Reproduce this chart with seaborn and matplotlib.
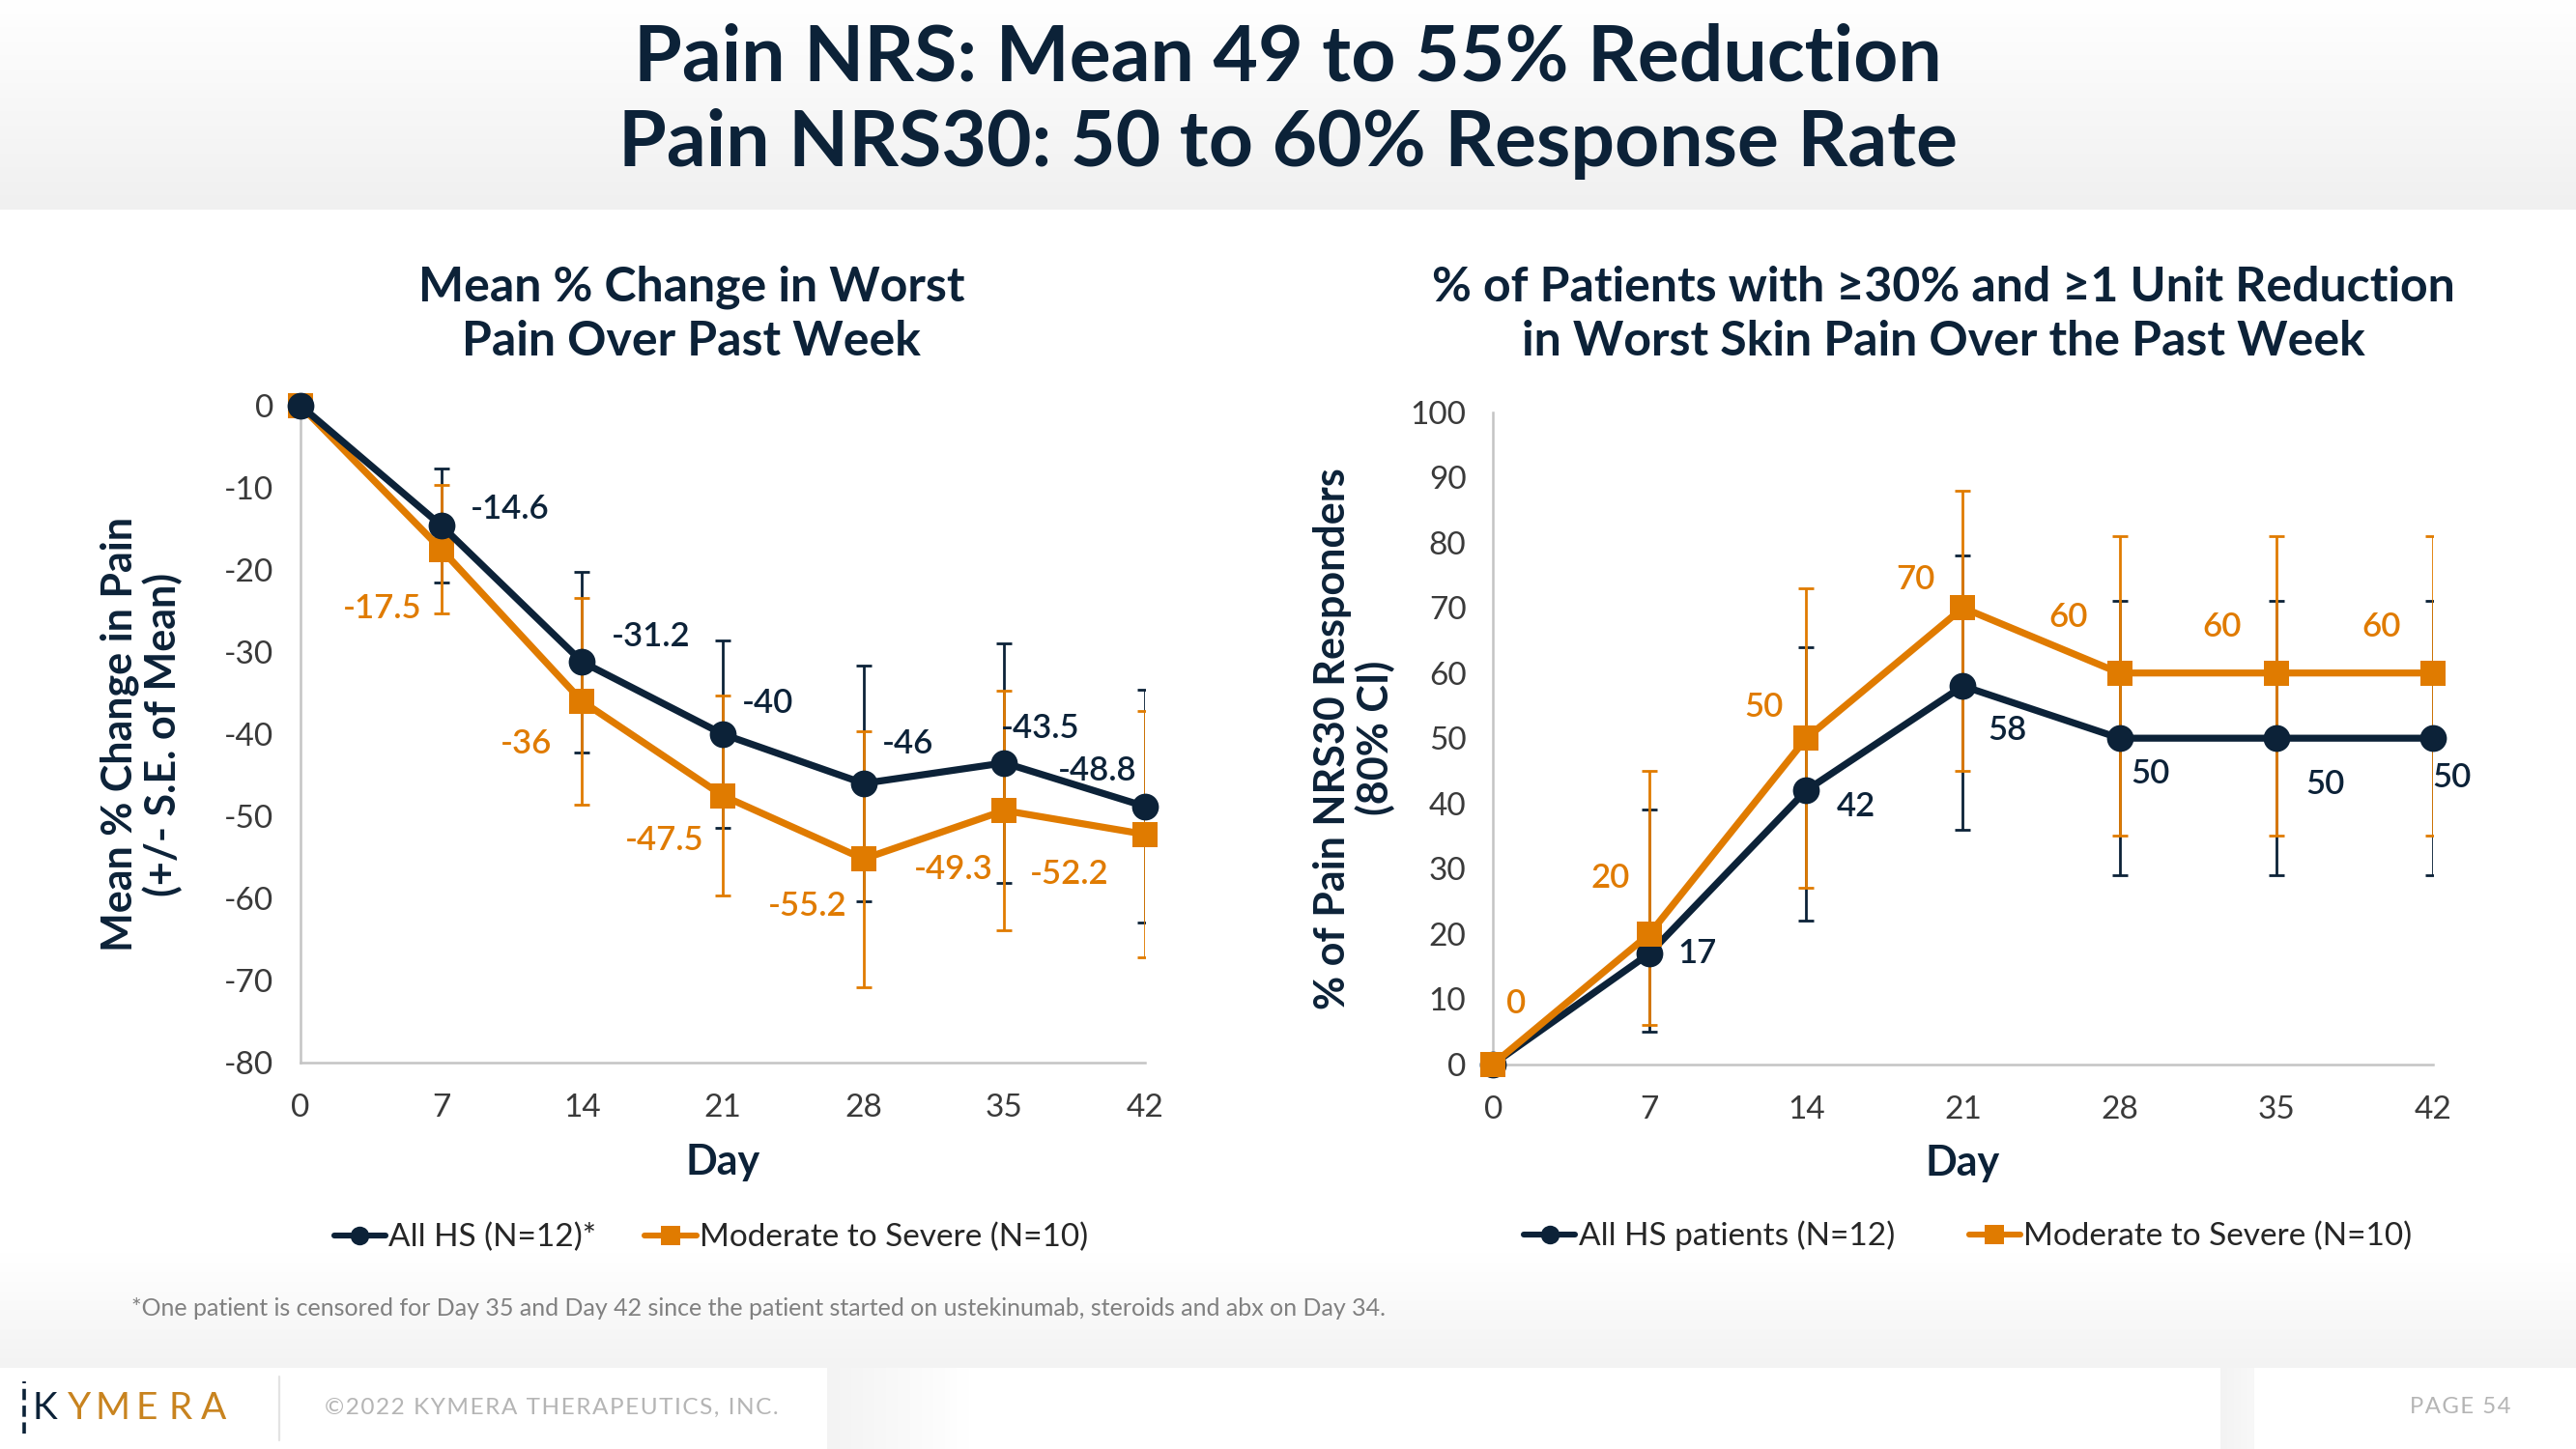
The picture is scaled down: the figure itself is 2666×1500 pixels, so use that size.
import numpy as np
import pandas as pd
import matplotlib.pyplot as plt
import seaborn as sns
from matplotlib.colors import LinearSegmentedColormap
from matplotlib.lines import Line2D

# Config
sns.set_theme(style="white")
plt.rcParams['font.family'] = ['Lato', 'DejaVu Sans']
plt.rcParams['axes.unicode_minus'] = False

NAVY = "#0c2238"
ORANGE = "#e07b00"
SPINE = "#c4c4c4"

# --------------------------------------------
# Data
# --------------------------------------------
days = [0, 7, 14, 21, 28, 35, 42]

# left: mean % change in worst pain (+/- S.E.)
pain_all = [0, -14.6, -31.2, -40, -46, -43.5, -48.8]
pain_all_se = [np.nan, 6.9, 11.0, 11.4, 14.3, 14.6, 14.2]
pain_mod = [0, -17.5, -36, -47.5, -55.2, -49.3, -52.2]
pain_mod_se = [np.nan, 7.8, 12.6, 12.2, 15.6, 14.6, 15.0]

# right: % NRS30 responders (80% CI)
resp_all = [0, 17, 42, 58, 50, 50, 50]
resp_all_lo = [np.nan, 5, 22, 36, 29, 29, 29]
resp_all_hi = [np.nan, 39, 64, 78, 71, 71, 71]
resp_mod = [0, 20, 50, 70, 60, 60, 60]
resp_mod_lo = [np.nan, 6, 27, 45, 35, 35, 35]
resp_mod_hi = [np.nan, 45, 73, 88, 81, 81, 81]

# label offsets (pixels) for the data labels
off_pain_all = [None, (71, 17), (71, 26), (46, 32), (46, 41), (37, 36), (-49, 37)]
off_pain_mod = [None, (-61, -61), (-58, -44), (-60, -46), (-58, -49), (-53, -61), (-78, -41)]
off_resp_all = [None, (49, 0), (51, -17), (46, -46), (32, -37), (51, -48), (20, -41)]
off_resp_mod = [(24, 63), (-41, 58), (-44, 32), (-49, 29), (-53, 58), (-56, 48), (-53, 48)]

df_pain = pd.DataFrame({'day': days, 'all': pain_all, 'mod': pain_mod})
df_resp = pd.DataFrame({'day': days, 'all': resp_all, 'mod': resp_mod})

fig = plt.figure(figsize=(13.33, 7.5), dpi=200)

# --------------------------------------------
# Background bands
# --------------------------------------------
bg = fig.add_axes([0, 0, 1, 1], zorder=-5)
bg.axis('off')


def band(x0, x1, y0, y1, c0, c1, vertical=True):
    cmap = LinearSegmentedColormap.from_list('b', [c0, c1])
    g = np.linspace(0, 1, 256)
    g = g.reshape(-1, 1) if vertical else g.reshape(1, -1)
    bg.imshow(g, extent=[x0, x1, y0, y1], aspect='auto', cmap=cmap,
              origin='upper', interpolation='bilinear')


band(0, 1, 0.855, 1.0, "#ffffff", "#f0f0f0")
band(0, 1, 0.056, 0.135, "#ffffff", "#f3f3f3")
band(0.321, 0.376, 0.0, 0.056, "#f3f3f3", "#ffffff", vertical=False)
band(0.862, 0.875, 0.0, 0.056, "#f3f3f3", "#f8f8f8", vertical=False)
bg.set_xlim(0, 1)
bg.set_ylim(0, 1)


def style_axes(ax):
    sns.despine(ax=ax)
    for s in ['left', 'bottom']:
        ax.spines[s].set_color(SPINE)
        ax.spines[s].set_linewidth(0.9)
    ax.tick_params(axis='both', length=4, width=0.8, color=SPINE,
                   labelsize=12, labelcolor="#3a3a3a", direction='out')
    ax.tick_params(axis='x', pad=7.5)
    ax.tick_params(axis='y', pad=6)
    ax.set_xlim(0, 42)
    ax.set_xticks(days)
    ax.set_facecolor('none')


def add_labels(ax, values, offsets, color):
    for d, v, o in zip(days, values, offsets):
        if o is None:
            continue
        ax.annotate(f"{v:g}", (d, v), xytext=o, textcoords='offset pixels',
                    ha='center', va='center', fontsize=12.5,
                    fontweight='semibold', color=color, annotation_clip=False)


# --------------------------------------------
# 1. Mean % change in worst pain
# --------------------------------------------
axL = fig.add_axes([0.1167, 0.2667, 0.3278, 0.4533])
axL.errorbar(days, pain_all, yerr=pain_all_se, fmt='none', ecolor=NAVY,
             elinewidth=1.0, capsize=3, capthick=1.0, zorder=2)
axL.errorbar(days, pain_mod, yerr=pain_mod_se, fmt='none', ecolor=ORANGE,
             elinewidth=1.0, capsize=3, capthick=1.0, zorder=2)
sns.lineplot(data=df_pain, x='day', y='all', ax=axL, color=NAVY, marker='o',
             markersize=10, markeredgewidth=0, linewidth=2.6, clip_on=False, zorder=4)
sns.lineplot(data=df_pain, x='day', y='mod', ax=axL, color=ORANGE, marker='s',
             markersize=9.5, markeredgewidth=0, linewidth=2.6, clip_on=False, zorder=3)
style_axes(axL)
axL.set_ylim(-80, 0)
axL.set_yticks(range(-80, 1, 10))
axL.set_xlabel('Day', fontsize=15.5, fontweight='bold', color=NAVY)
axL.xaxis.set_label_coords(0.5, -0.122)
axL.set_ylabel('Mean % Change in Pain\n(+/- S.E. of Mean)', fontsize=15.5,
               fontweight='bold', color=NAVY, linespacing=1.1)
axL.yaxis.set_label_coords(-0.14, 0.5)
add_labels(axL, pain_all, off_pain_all, NAVY)
add_labels(axL, pain_mod, off_pain_mod, ORANGE)

# --------------------------------------------
# 2. % of patients with NRS30 response
# --------------------------------------------
axR = fig.add_axes([0.5796, 0.2656, 0.3648, 0.4499])
ra, rm = np.array(resp_all, float), np.array(resp_mod, float)
axR.errorbar(days, resp_all, yerr=[ra - resp_all_lo, np.array(resp_all_hi) - ra],
             fmt='none', ecolor=NAVY, elinewidth=1.0, capsize=3, capthick=1.0, zorder=2)
axR.errorbar(days, resp_mod, yerr=[rm - resp_mod_lo, np.array(resp_mod_hi) - rm],
             fmt='none', ecolor=ORANGE, elinewidth=1.0, capsize=3, capthick=1.0, zorder=2)
sns.lineplot(data=df_resp, x='day', y='all', ax=axR, color=NAVY, marker='o',
             markersize=10, markeredgewidth=0, linewidth=2.6, clip_on=False, zorder=3)
sns.lineplot(data=df_resp, x='day', y='mod', ax=axR, color=ORANGE, marker='s',
             markersize=9.5, markeredgewidth=0, linewidth=2.6, clip_on=False, zorder=4)
style_axes(axR)
axR.set_ylim(0, 100)
axR.set_yticks(range(0, 101, 10))
axR.set_xlabel('Day', fontsize=15.5, fontweight='bold', color=NAVY)
axR.xaxis.set_label_coords(0.5, -0.122)
axR.set_ylabel('% of Pain NRS30 Responders\n(80% CI)', fontsize=15.5,
               fontweight='bold', color=NAVY, linespacing=1.1)
axR.yaxis.set_label_coords(-0.104, 0.5)
add_labels(axR, resp_all, off_resp_all, NAVY)
add_labels(axR, resp_mod, off_resp_mod, ORANGE)

# legends
def handles():
    return [Line2D([], [], color=NAVY, marker='o', markersize=7, lw=2.2, markeredgewidth=0),
            Line2D([], [], color=ORANGE, marker='s', markersize=7, lw=2.2, markeredgewidth=0)]


fig.legend(handles(), ['All HS (N=12)*', 'Moderate to Severe (N=10)'],
           loc='center', bbox_to_anchor=(0.276, 0.146), ncol=2, frameon=False,
           fontsize=12, handlelength=1.6, handletextpad=0.1, columnspacing=1.5,
           labelcolor="#262626")
fig.legend(handles(), ['All HS patients (N=12)', 'Moderate to Severe (N=10)'],
           loc='center', bbox_to_anchor=(0.764, 0.147), ncol=2, frameon=False,
           fontsize=12, handlelength=1.6, handletextpad=0.1, columnspacing=2.3,
           labelcolor="#262626")

# --------------------------------------------
# Titles & footer text
# --------------------------------------------
fig.text(0.5, 0.960, 'Pain NRS: Mean 49 to 55% Reduction', ha='center', va='center',
         fontsize=29, fontweight='bold', color=NAVY)
fig.text(0.5, 0.901, 'Pain NRS30: 50 to 60% Response Rate', ha='center', va='center',
         fontsize=29, fontweight='bold', color=NAVY)

fig.text(0.2685, 0.783, 'Mean % Change in Worst\nPain Over Past Week', ha='center',
         va='center', fontsize=18, fontweight='bold', color=NAVY, linespacing=1.3)
fig.text(0.7544, 0.783, '% of Patients with \u226530% and \u22651 Unit Reduction\n'
         'in Worst Skin Pain Over the Past Week', ha='center', va='center',
         fontsize=18, fontweight='bold', color=NAVY, linespacing=1.3)

fig.text(0.051, 0.0967, '*One patient is censored for Day 35 and Day 42 since the patient '
         'started on ustekinumab, steroids and abx on Day 34.', ha='left', va='center',
         fontsize=9, color="#808080")

# logo
for i, ch in enumerate("KYMERA"):
    fig.text(0.0175 + i * 0.0131, 0.0282, ch, ha='center', va='center', fontsize=14,
             color=NAVY if ch == "K" else "#c8831f")
fig.add_artist(Line2D([0.0095, 0.0095], [0.011, 0.047], transform=fig.transFigure,
                      color=NAVY, lw=1.3, ls=(0, (3.2, 1.6))))
fig.add_artist(Line2D([0.1084, 0.1084], [0.006, 0.05], transform=fig.transFigure,
                      color="#e3e3e3", lw=0.8))
sp = '\u200a'
fig.text(0.126, 0.0287, sp.join('\u00a92022 KYMERA THERAPEUTICS, INC.'),
         ha='left', va='center', fontsize=8.8, color="#b5b5b5")
fig.text(0.9745, 0.0287, sp.join('PAGE 54'), ha='right', va='center', fontsize=8.6,
         color="#b5b5b5")

fig.savefig("out.png", dpi=200, facecolor='white')
plt.close()
